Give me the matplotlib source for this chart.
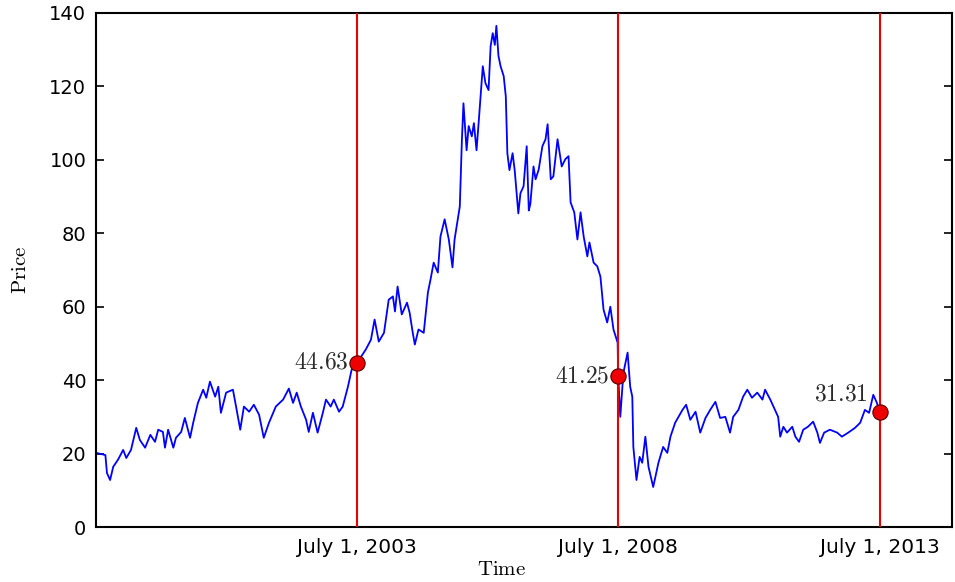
import matplotlib
matplotlib.use('Agg')
import matplotlib.pyplot as plt

plt.rcParams['mathtext.fontset'] = 'cm'

# Serie de precios (anio fraccionario, precio)
years_a = [1998.51, 1998.69, 1998.72, 1998.78, 1998.84, 1998.93, 1999.03, 1999.09,
           1999.18, 1999.28, 1999.35, 1999.45, 1999.55, 1999.64, 1999.70, 1999.79,
           1999.83, 1999.89, 1999.99, 2000.04, 2000.14, 2000.21, 2000.31, 2000.37,
           2000.46, 2000.56, 2000.62, 2000.69, 2000.79, 2000.85, 2000.90, 2001.00,
           2001.13, 2001.19, 2001.27, 2001.34, 2001.44, 2001.53, 2001.63, 2001.72,
           2001.82, 2001.95, 2002.09, 2002.20, 2002.28, 2002.35, 2002.43, 2002.53,
           2002.58, 2002.66, 2002.75, 2002.85, 2002.91, 2003.00, 2003.06, 2003.16,
           2003.23, 2003.33, 2003.40]
price_a = [20.2, 19.6, 14.7, 12.8, 16.4, 18.3, 21.0, 18.8,
           21.0, 27.0, 23.7, 21.6, 25.1, 23.2, 26.5, 25.9,
           21.6, 26.5, 21.6, 24.3, 25.9, 29.7, 24.3, 28.4,
           33.8, 37.4, 35.2, 39.6, 35.5, 38.2, 31.1, 36.6,
           37.4, 32.8, 26.5, 32.8, 31.4, 33.3, 30.6, 24.3,
           28.4, 32.8, 34.7, 37.7, 33.8, 36.6, 32.8, 29.2,
           25.9, 31.1, 25.7, 31.1, 34.7, 32.8, 34.7, 31.4,
           32.8, 38.2, 42.8]

years_b = [2003.50, 2003.67, 2003.77, 2003.84, 2003.92, 2004.02, 2004.11, 2004.19,
           2004.23, 2004.28, 2004.36, 2004.46, 2004.51, 2004.57, 2004.61, 2004.68,
           2004.78, 2004.86, 2004.91, 2004.97, 2005.05, 2005.10, 2005.18, 2005.26,
           2005.33, 2005.37, 2005.43, 2005.47, 2005.51, 2005.54, 2005.60, 2005.64,
           2005.70, 2005.74, 2005.79, 2005.83, 2005.91, 2005.96, 2006.02, 2006.06,
           2006.10, 2006.14, 2006.17, 2006.21, 2006.25, 2006.31, 2006.35, 2006.38,
           2006.42, 2006.48, 2006.52, 2006.59, 2006.63, 2006.69, 2006.75, 2006.79,
           2006.82, 2006.88, 2006.92, 2006.98, 2007.05, 2007.11, 2007.15, 2007.21,
           2007.26, 2007.34, 2007.42, 2007.49, 2007.55, 2007.59, 2007.66, 2007.72,
           2007.78, 2007.84, 2007.91, 2007.95, 2008.03, 2008.10, 2008.16, 2008.22,
           2008.29, 2008.35, 2008.41, 2008.49]
price_b = [44.63, 48.3, 51.0, 56.5, 50.5, 52.9, 61.9, 62.8,
           58.7, 65.5, 57.9, 61.1, 58.4, 52.9, 49.7, 53.8,
           52.9, 63.9, 67.4, 72.0, 69.3, 79.1, 83.8, 78.3,
           70.7, 78.3, 83.8, 87.3, 105.3, 115.4, 102.6, 109.2,
           106.4, 110.0, 102.6, 110.0, 125.5, 120.9, 119.0, 131.0,
           134.5, 131.3, 136.5, 128.3, 125.5, 122.8, 117.3, 101.8,
           97.2, 101.8, 97.2, 85.4, 90.9, 92.8, 103.7, 86.2,
           88.0, 98.2, 94.7, 97.4, 103.7, 105.6, 109.7, 94.7,
           95.5, 105.6, 98.2, 100.2, 101.0, 88.4, 85.7, 78.3,
           85.7, 79.1, 73.7, 77.5, 72.0, 71.0, 68.2, 59.2,
           55.7, 60.0, 53.8, 50.2]

years_c = [2008.50, 2008.54, 2008.60, 2008.64, 2008.68, 2008.73, 2008.77, 2008.79,
           2008.85, 2008.91, 2008.96, 2009.02, 2009.08, 2009.17, 2009.27, 2009.36,
           2009.44, 2009.50, 2009.59, 2009.73, 2009.80, 2009.88, 2009.98, 2010.07,
           2010.17, 2010.26, 2010.36, 2010.45, 2010.55, 2010.64, 2010.70, 2010.80,
           2010.89, 2010.97, 2011.06, 2011.16, 2011.26, 2011.31, 2011.41, 2011.50,
           2011.56, 2011.60, 2011.66, 2011.73, 2011.83, 2011.89, 2011.96, 2012.04,
           2012.13, 2012.23, 2012.31, 2012.36, 2012.44, 2012.55, 2012.69, 2012.78,
           2012.90, 2013.03, 2013.13, 2013.22, 2013.30, 2013.38, 2013.45, 2013.50]
price_c = [41.25, 30.0, 42.0, 44.8, 47.5, 38.2, 35.5, 21.8,
           12.8, 19.1, 17.5, 24.6, 16.4, 10.9, 17.5, 21.8,
           20.2, 24.6, 28.4, 31.9, 33.3, 29.2, 31.4, 25.7,
           29.7, 31.9, 34.1, 29.7, 30.0, 25.7, 30.0, 31.9,
           35.5, 37.4, 35.2, 36.6, 34.7, 37.4, 34.7, 31.9,
           30.0, 24.6, 27.3, 25.7, 27.3, 24.6, 23.2, 26.5,
           27.3, 28.7, 25.7, 22.9, 25.7, 26.5, 25.7, 24.6,
           25.7, 27.0, 28.4, 31.9, 31.1, 36.0, 33.8, 31.31]

years = years_a + years_b + years_c
price = price_a + price_b + price_c

# Fechas marcadas (1 de julio) y su precio
mark_years = [2003.5, 2008.5, 2013.5]
mark_price = [44.63, 41.25, 31.31]
mark_text = ['44.63', '41.25', '31.31']
tick_labels = ['July 1, 2003', 'July 1, 2008', 'July 1, 2013']

fig = plt.figure(figsize=(9.55, 5.82), dpi=100)
ax = fig.add_axes([0.1005, 0.0945, 0.8963, 0.8832])

ax.plot(years, price, color='#0000ff', lw=1.3, zorder=2)

for xm in mark_years:
    ax.axvline(xm, color='#e80000', lw=1.5, zorder=3)

ax.plot(mark_years, mark_price, 'o', ms=11, mfc='#ee0000', mec='#550000',
        mew=0.8, zorder=4)

# etiquetas de los puntos
offsets = [(-8, 2), (-9, 0), (-12, 19)]
for xm, ym, txt, off in zip(mark_years, mark_price, mark_text, offsets):
    ax.annotate('$\\mathrm{' + txt + '}$', (xm, ym), xytext=off,
                textcoords='offset pixels', ha='right', va='center',
                fontsize=17, color='#2a2a2a')

ax.set_xlim(1998.51, 2014.885)
ax.set_ylim(0, 140)
ax.set_yticks(range(0, 141, 20))
ax.set_xticks(mark_years)
ax.set_xticklabels(tick_labels)

ax.tick_params(axis='y', direction='in', length=6, width=1.2, right=True,
               labelsize=14, pad=7)
ax.tick_params(axis='x', direction='in', length=0, labelsize=14.5, pad=8)
for lbl in ax.get_xticklabels() + ax.get_yticklabels():
    lbl.set_family('DejaVu Sans')

for s in ax.spines.values():
    s.set_linewidth(1.5)

ax.set_xlabel('$\\mathrm{Time}$', fontsize=15)
ax.set_ylabel('$\\mathrm{Price}$', fontsize=15)
ax.xaxis.set_label_coords(0.474, -0.062)
ax.yaxis.set_label_coords(-0.077, 0.5)

fig.savefig('out.png', dpi=100)
